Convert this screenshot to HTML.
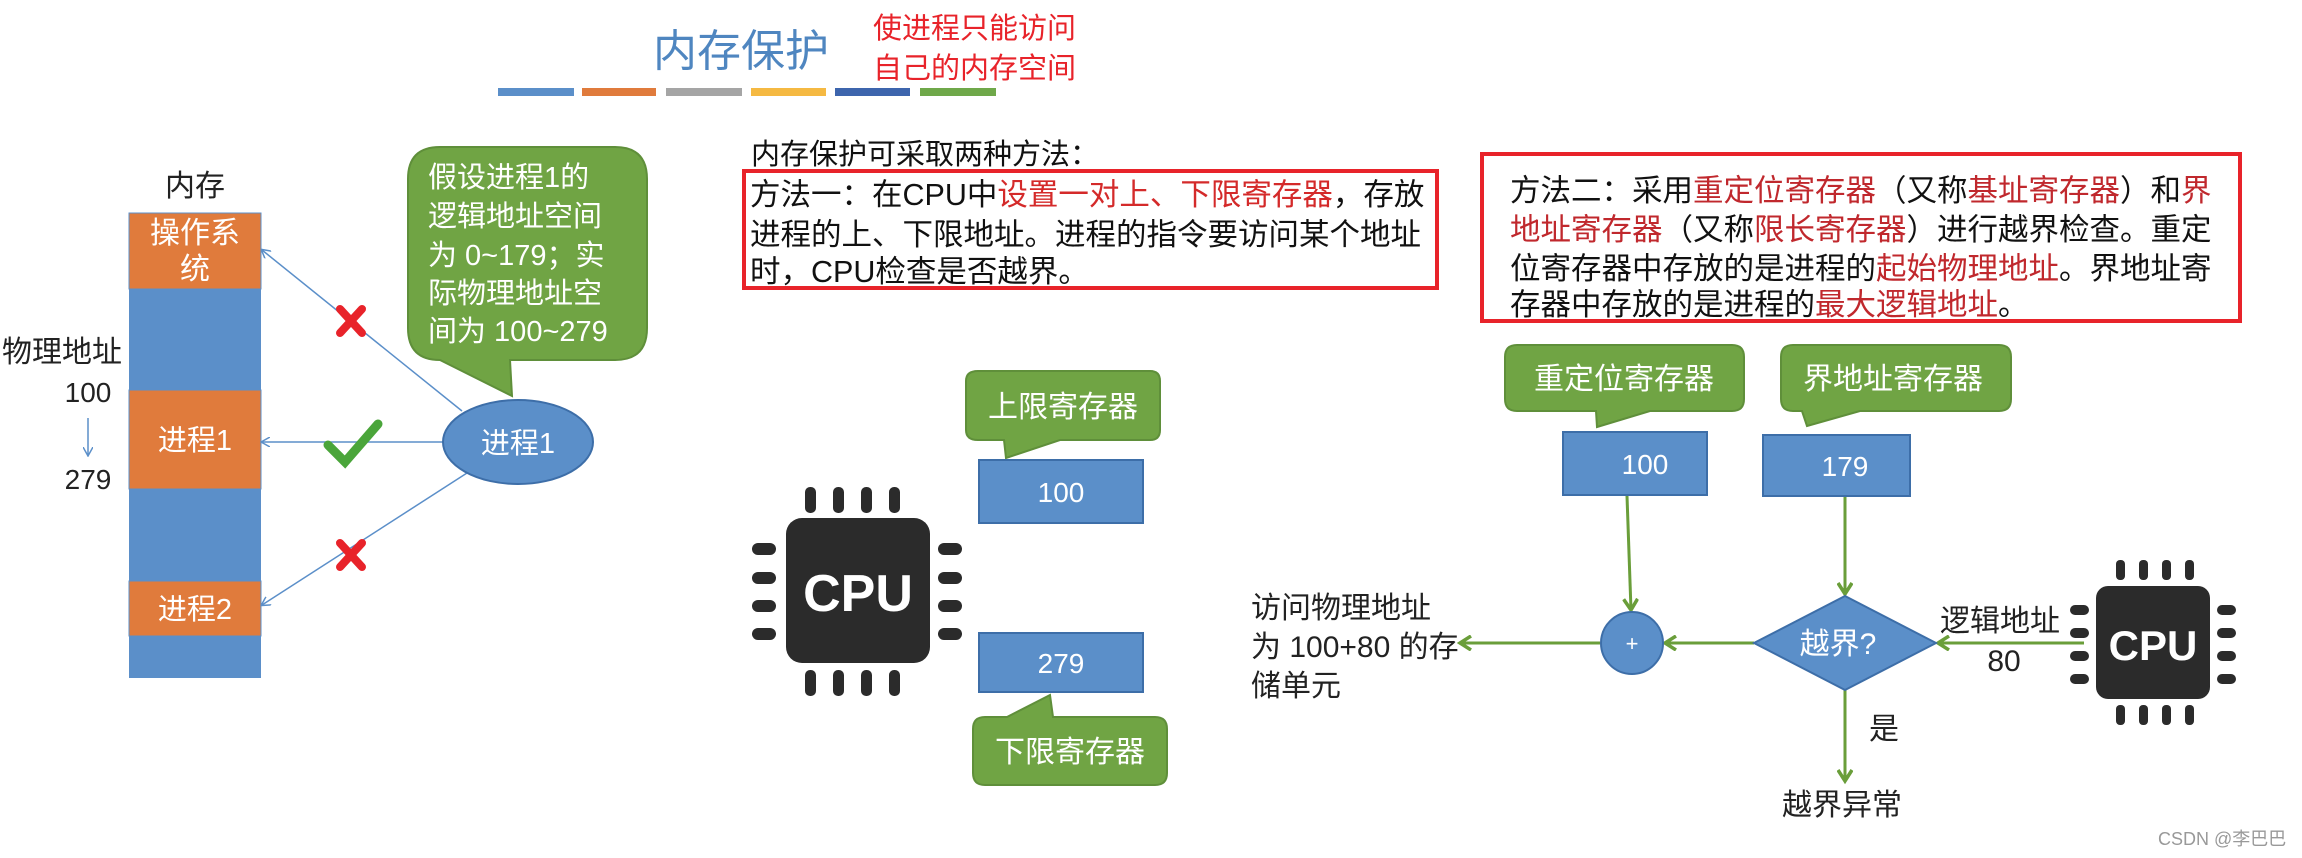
<!DOCTYPE html>
<html><head><meta charset="utf-8"><style>
html,body{margin:0;padding:0;background:#fff;}
svg{display:block}
text{font-family:"Liberation Sans","Noto Sans CJK SC",sans-serif;}
</style></head><body>
<svg width="2302" height="858" viewBox="0 0 2302 858" xmlns="http://www.w3.org/2000/svg">
<defs>
<marker id="ab" markerWidth="10" markerHeight="10" refX="8" refY="5" orient="auto" markerUnits="userSpaceOnUse"><path d="M0,0 L9,5 L0,10" fill="none" stroke="#5b8fc9" stroke-width="1.5"/></marker>
<marker id="ag" markerWidth="16" markerHeight="16" refX="12" refY="8" orient="auto" markerUnits="userSpaceOnUse"><path d="M1,1 L12,8 L1,15" fill="none" stroke="#6a9e3a" stroke-width="3.5"/></marker>
</defs>
<!-- title -->
<text x="741" y="66" font-size="44" fill="#4f86c0" text-anchor="middle">内存保护</text>
<text x="873" y="38" font-size="29" fill="#e8232a">使进程只能访问</text>
<text x="873" y="78" font-size="29" fill="#e8232a">自己的内存空间</text>
<rect x="498" y="88" width="76" height="8" fill="#5b8fc9"/>
<rect x="582" y="88" width="74" height="8" fill="#e07b3c"/>
<rect x="666" y="88" width="76" height="8" fill="#a5a5a5"/>
<rect x="751" y="88" width="75" height="8" fill="#f5b942"/>
<rect x="835" y="88" width="75" height="8" fill="#3d65ad"/>
<rect x="920" y="88" width="76" height="8" fill="#6fa84a"/>

<!-- memory -->
<text x="195" y="196" font-size="30" fill="#222" text-anchor="middle">内存</text>
<rect x="129" y="213" width="132" height="76" fill="#e07b3c" stroke="#5b8fc9"/>
<rect x="129" y="289" width="132" height="101" fill="#5b8fc9"/>
<rect x="129" y="390" width="132" height="99" fill="#e07b3c" stroke="#5b8fc9"/>
<rect x="129" y="489" width="132" height="92" fill="#5b8fc9"/>
<rect x="129" y="581" width="132" height="55" fill="#e07b3c" stroke="#5b8fc9"/>
<rect x="129" y="636" width="132" height="42" fill="#5b8fc9"/>
<text x="195" y="243" font-size="30" fill="#fff" text-anchor="middle">操作系</text>
<text x="195" y="279" font-size="30" fill="#fff" text-anchor="middle">统</text>
<text x="195" y="450" font-size="29" fill="#fff" text-anchor="middle">进程1</text>
<text x="195" y="619" font-size="29" fill="#fff" text-anchor="middle">进程2</text>
<text x="2" y="362" font-size="30" fill="#222">物理地址</text>
<text x="88" y="402" font-size="28" fill="#222" text-anchor="middle">100</text>
<line x1="88" y1="418" x2="88" y2="455" stroke="#5b8fc9" stroke-width="1.5" marker-end="url(#ab)"/>
<text x="88" y="489" font-size="28" fill="#222" text-anchor="middle">279</text>

<!-- bubble -->
<path d="M440,147 H615 Q647,147 647,179 V328 Q647,360 615,360 H510 L512,396 L440,360 Q408,360 408,328 V179 Q408,147 440,147 Z" fill="#70a444" stroke="#5f8f3a" stroke-width="2"/>
<g font-size="29" fill="#fff">
<text x="428" y="187">假设进程1的</text>
<text x="428" y="226">逻辑地址空间</text>
<text x="428" y="265">为 0~179；实</text>
<text x="428" y="303">际物理地址空</text>
<text x="428" y="341">间为 100~279</text>
</g>
<!-- arrows -->
<line x1="462" y1="411" x2="262" y2="250" stroke="#5b8fc9" stroke-width="1.5" marker-end="url(#ab)"/>
<line x1="444" y1="442" x2="262" y2="442" stroke="#5b8fc9" stroke-width="1.5" marker-end="url(#ab)"/>
<line x1="467" y1="473" x2="262" y2="605" stroke="#5b8fc9" stroke-width="1.5" marker-end="url(#ab)"/>
<ellipse cx="518" cy="442" rx="75" ry="42" fill="#5b8fc9" stroke="#3d6ea8" stroke-width="2"/>
<text x="518" y="453" font-size="29" fill="#fff" text-anchor="middle">进程1</text>
<g stroke="#e8232a" stroke-width="8" stroke-linecap="round">
<line x1="340" y1="309" x2="362" y2="333"/><line x1="362" y1="309" x2="340" y2="333"/>
<line x1="340" y1="543" x2="362" y2="567"/><line x1="362" y1="543" x2="340" y2="567"/>
</g>
<path d="M328,445 L345,462 L378,424" fill="none" stroke="#4aa53a" stroke-width="9" stroke-linecap="round"/>

<!-- method 1 -->
<text x="751" y="164" font-size="29" fill="#111">内存保护可采取两种方法：</text>
<rect x="744" y="171" width="693" height="117" fill="none" stroke="#e8232a" stroke-width="4"/>
<g font-size="30.5" fill="#111">
<text x="750" y="205">方法一：在CPU中<tspan fill="#d42a2a">设置一对上、下限寄存器</tspan>，存放</text>
<text x="750" y="245">进程的上、下限地址。进程的指令要访问某个地址</text>
<text x="750" y="282">时，CPU检查是否越界。</text>
</g>

<!-- cpu1 -->
<g fill="#2b2b2b">
<rect x="786" y="518" width="144" height="145" rx="16"/>
<rect x="805" y="487" width="11" height="26" rx="5"/><rect x="833" y="487" width="11" height="26" rx="5"/><rect x="861" y="487" width="11" height="26" rx="5"/><rect x="889" y="487" width="11" height="26" rx="5"/>
<rect x="805" y="670" width="11" height="26" rx="5"/><rect x="833" y="670" width="11" height="26" rx="5"/><rect x="861" y="670" width="11" height="26" rx="5"/><rect x="889" y="670" width="11" height="26" rx="5"/>
<rect x="752" y="543" width="24" height="12" rx="6"/><rect x="752" y="572" width="24" height="12" rx="6"/><rect x="752" y="600" width="24" height="12" rx="6"/><rect x="752" y="628" width="24" height="12" rx="6"/>
<rect x="938" y="543" width="24" height="12" rx="6"/><rect x="938" y="572" width="24" height="12" rx="6"/><rect x="938" y="600" width="24" height="12" rx="6"/><rect x="938" y="628" width="24" height="12" rx="6"/>
</g>
<text x="858" y="611" font-size="52" font-weight="bold" fill="#fff" text-anchor="middle">CPU</text>

<path d="M978,371 H1150 Q1160,371 1160,381 V430 Q1160,440 1150,440 H1060 L1006,458 L1004,440 H978 Q966,440 966,430 V381 Q966,371 978,371 Z" fill="#70a444" stroke="#5f8f3a" stroke-width="2"/>
<text x="1063" y="417" font-size="30" fill="#fff" text-anchor="middle">上限寄存器</text>
<rect x="979" y="460" width="164" height="63" fill="#5b8fc9" stroke="#3d6ea8" stroke-width="2"/>
<text x="1061" y="502" font-size="28" fill="#fff" text-anchor="middle">100</text>
<rect x="979" y="633" width="164" height="59" fill="#5b8fc9" stroke="#3d6ea8" stroke-width="2"/>
<text x="1061" y="673" font-size="28" fill="#fff" text-anchor="middle">279</text>
<path d="M985,717 H1007 L1050,695 L1053,717 H1155 Q1167,717 1167,729 V773 Q1167,785 1155,785 H985 Q973,785 973,773 V729 Q973,717 985,717 Z" fill="#70a444" stroke="#5f8f3a" stroke-width="2"/>
<text x="1070" y="762" font-size="30" fill="#fff" text-anchor="middle">下限寄存器</text>

<!-- method 2 -->
<rect x="1482" y="154" width="758" height="167" fill="none" stroke="#e8232a" stroke-width="4"/>
<g font-size="30.5" fill="#111">
<text x="1510" y="201">方法二：采用<tspan fill="#c0282d">重定位寄存器</tspan>（又称<tspan fill="#c0282d">基址寄存器</tspan>）和<tspan fill="#c0282d">界</tspan></text>
<text x="1510" y="240"><tspan fill="#c0282d">地址寄存器</tspan>（又称<tspan fill="#c0282d">限长寄存器</tspan>）进行越界检查。重定</text>
<text x="1510" y="279">位寄存器中存放的是进程的<tspan fill="#c0282d">起始物理地址</tspan>。界地址寄</text>
<text x="1510" y="315">存器中存放的是进程的<tspan fill="#c0282d">最大逻辑地址</tspan>。</text>
</g>

<path d="M1517,345 H1732 Q1744,345 1744,357 V399 Q1744,411 1732,411 H1650 L1597,427 L1596,411 H1517 Q1505,411 1505,399 V357 Q1505,345 1517,345 Z" fill="#70a444" stroke="#5f8f3a" stroke-width="2"/>
<text x="1624" y="389" font-size="30" fill="#fff" text-anchor="middle">重定位寄存器</text>
<path d="M1793,345 H1999 Q2011,345 2011,357 V399 Q2011,411 1999,411 H1860 L1807,426 L1802,411 H1793 Q1781,411 1781,399 V357 Q1781,345 1793,345 Z" fill="#70a444" stroke="#5f8f3a" stroke-width="2"/>
<text x="1893" y="389" font-size="30" fill="#fff" text-anchor="middle">界地址寄存器</text>
<rect x="1563" y="432" width="144" height="63" fill="#5b8fc9" stroke="#3d6ea8" stroke-width="2"/>
<text x="1645" y="474" font-size="28" fill="#fff" text-anchor="middle">100</text>
<rect x="1763" y="435" width="147" height="61" fill="#5b8fc9" stroke="#3d6ea8" stroke-width="2"/>
<text x="1845" y="476" font-size="28" fill="#fff" text-anchor="middle">179</text>

<g stroke="#6a9e3a" stroke-width="3" fill="none">
<line x1="1627" y1="496" x2="1631" y2="610" marker-end="url(#ag)"/>
<line x1="1845" y1="497" x2="1845" y2="594" marker-end="url(#ag)"/>
<line x1="1754" y1="643" x2="1665" y2="643" marker-end="url(#ag)"/>
<line x1="1600" y1="643" x2="1460" y2="643" marker-end="url(#ag)"/>
<line x1="2084" y1="643" x2="1938" y2="643" marker-end="url(#ag)"/>
<line x1="1845" y1="690" x2="1845" y2="781" marker-end="url(#ag)"/>
</g>
<circle cx="1632" cy="643" r="31" fill="#5b8fc9" stroke="#3d6ea8" stroke-width="2"/>
<text x="1632" y="651" font-size="22" fill="#fff" text-anchor="middle">+</text>
<path d="M1845,596 L1936,643 L1845,690 L1754,643 Z" fill="#5b8fc9" stroke="#3d6ea8" stroke-width="2"/>
<text x="1838" y="654" font-size="30" fill="#fff" text-anchor="middle">越界?</text>
<g font-size="30" fill="#222">
<text x="1251" y="618">访问物理地址</text>
<text x="1251" y="657">为 100+80 的存</text>
<text x="1251" y="696">储单元</text>
<text x="1940" y="631">逻辑地址</text>
<text x="2004" y="671" text-anchor="middle">80</text>
<text x="1869" y="739">是</text>
<text x="1842" y="815" text-anchor="middle">越界异常</text>
</g>

<!-- cpu2 -->
<g fill="#2b2b2b">
<rect x="2096" y="586" width="114" height="113" rx="12"/>
<rect x="2116" y="560" width="9" height="20" rx="4"/><rect x="2139" y="560" width="9" height="20" rx="4"/><rect x="2162" y="560" width="9" height="20" rx="4"/><rect x="2185" y="560" width="9" height="20" rx="4"/>
<rect x="2116" y="705" width="9" height="20" rx="4"/><rect x="2139" y="705" width="9" height="20" rx="4"/><rect x="2162" y="705" width="9" height="20" rx="4"/><rect x="2185" y="705" width="9" height="20" rx="4"/>
<rect x="2070" y="605" width="19" height="10" rx="5"/><rect x="2070" y="628" width="19" height="10" rx="5"/><rect x="2070" y="651" width="19" height="10" rx="5"/><rect x="2070" y="674" width="19" height="10" rx="5"/>
<rect x="2217" y="605" width="19" height="10" rx="5"/><rect x="2217" y="628" width="19" height="10" rx="5"/><rect x="2217" y="651" width="19" height="10" rx="5"/><rect x="2217" y="674" width="19" height="10" rx="5"/>
</g>
<text x="2153" y="660" font-size="42" font-weight="bold" fill="#fff" text-anchor="middle">CPU</text>

<text x="2158" y="845" font-size="18" fill="#999">CSDN @李巴巴</text>
</svg>
</body></html>
